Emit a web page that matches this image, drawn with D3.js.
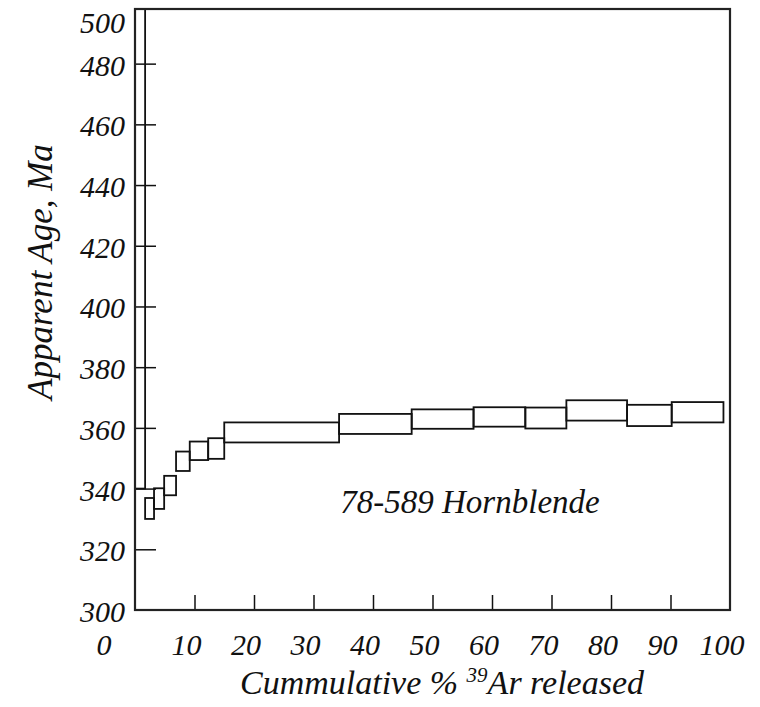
<html>
<head>
<script src="https://cdn.jsdelivr.net/npm/d3@7/dist/d3.min.js"></script>
<style type="text/css">
  body { margin: 0; background: #fff; }
  rect.frame { fill: none; stroke: #222; stroke-width: 2.2; }
  rect.step { fill: none; stroke: #111; stroke-width: 1.8; }
  .tick line { stroke: #111; stroke-width: 1.5; }
</style>
</head>
<body>
<script type="text/javascript">

  var width = 760;
  var height = 707;

  // heating steps: cumulative % 39Ar at step edges, and age band of each step (Ma)
  var cumEdges = [0, 1.7, 3.2, 4.9, 6.9, 9.2, 12.3, 15.0, 34.3, 46.5, 56.9, 65.6, 72.5, 82.7, 90.2, 98.9];
  var ageLow  = [340.0, 330.0, 333.3, 337.8, 345.8, 349.4, 349.8, 355.2, 358.0, 359.7, 360.4, 359.8, 362.4, 360.6, 361.8];
  var ageHigh = [560.0, 336.9, 340.1, 344.2, 352.2, 355.5, 356.6, 361.8, 364.6, 366.1, 366.8, 366.7, 369.1, 367.6, 368.5];

  var xTicks = [10, 20, 30, 40, 50, 60, 70, 80, 90];
  var xLabels = [0, 10, 20, 30, 40, 50, 60, 70, 80, 90, 100];
  var yTicks = [320, 340, 360, 380, 400, 420, 440, 460, 480];
  var yLabels = [300, 320, 340, 360, 380, 400, 420, 440, 460, 480, 500];

  var serif = "'Liberation Serif', 'Times New Roman', serif";

  var svg = d3.select("body").append("svg")
    .attr("width", width)
    .attr("height", height);

  var x = d3.scaleLinear().domain([0, 100]).range([135, 730]);
  var y = d3.scaleLinear().domain([300, 498]).range([610, 9]);

  svg.append("clipPath").attr("id", "plot-clip")
    .append("rect")
    .attr("x", x(0)).attr("y", y(498))
    .attr("width", x(100) - x(0)).attr("height", y(300) - y(498));

  /* Draw steps */
  var steps = ageLow.map(function(lo, i) {
    return { x0: cumEdges[i], x1: cumEdges[i + 1], lo: lo, hi: ageHigh[i] };
  });

  svg.append("g")
    .attr("clip-path", "url(#plot-clip)")
    .selectAll("rect.step")
    .data(steps)
    .enter()
    .append("rect")
    .attr("class", "step")
    .attr("x", function(d) { return x(d.x0); })
    .attr("y", function(d) { return y(d.hi); })
    .attr("width", function(d) { return x(d.x1) - x(d.x0); })
    .attr("height", function(d) { return y(d.lo) - y(d.hi); });

  /* Inward ticks */
  var gx = svg.append("g")
    .attr("transform", "translate(0," + y(300) + ")")
    .call(d3.axisBottom(x).tickValues(xTicks).tickSize(-15).tickFormat(""));
  gx.select(".domain").remove();

  var gy = svg.append("g")
    .attr("transform", "translate(" + x(0) + ",0)")
    .call(d3.axisLeft(y).tickValues(yTicks).tickSize(-21).tickFormat(""));
  gy.select(".domain").remove();

  /* Frame */
  svg.append("rect")
    .attr("class", "frame")
    .attr("x", x(0))
    .attr("y", y(498))
    .attr("width", x(100) - x(0))
    .attr("height", y(300) - y(498));

  /* Tick labels */
  svg.selectAll("text.xl")
    .data(xLabels)
    .enter()
    .append("text")
    .attr("class", "xl")
    .attr("text-anchor", "middle")
    .attr("x", function(d) { return d === 0 ? x(d) - 31 : x(d) - 8; })
    .attr("y", 655)
    .style("font-size", "30px")
    .text(function(d) { return d; });

  svg.selectAll("text.yl")
    .data(yLabels)
    .enter()
    .append("text")
    .attr("class", "yl")
    .attr("text-anchor", "end")
    .attr("x", 125)
    .attr("y", function(d) { return Math.max(y(d) + 12, 33); })
    .style("font-size", "30px")
    .text(function(d) { return d; });

  /* Axis titles */
  svg.append("text")
    .attr("text-anchor", "middle")
    .attr("transform", "translate(52,272) rotate(-90)")
    .style("font-size", "35px")
    .text("Apparent Age, Ma");

  var xt = svg.append("text")
    .attr("text-anchor", "middle")
    .attr("x", 442)
    .attr("y", 694)
    .style("font-size", "34px");
  xt.append("tspan").text("Cummulative % ");
  xt.append("tspan").attr("dy", -12).style("font-size", "21px").text("39");
  xt.append("tspan").attr("dy", 12).text("Ar released");

  svg.append("text")
    .attr("text-anchor", "middle")
    .attr("x", 470)
    .attr("y", 513)
    .style("font-size", "33px")
    .text("78-589 Hornblende");

  svg.selectAll("text")
    .style("font-family", serif)
    .style("font-style", "italic")
    .style("fill", "#111");

</script>
</body>
</html>
